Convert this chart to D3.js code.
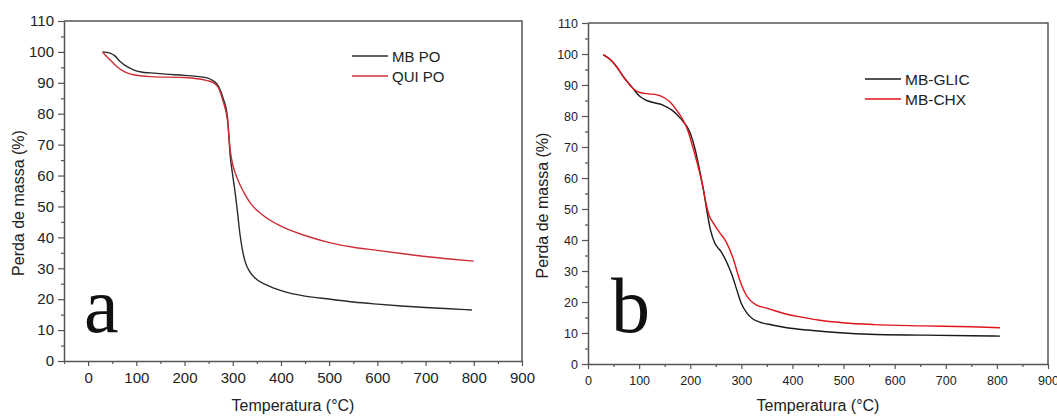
<!doctype html>
<html>
<head>
<meta charset="utf-8">
<script src="https://d3js.org/d3.v7.min.js"></script>
<style>
  body { margin: 0; background: #fff; }
  .axis path.domain { stroke: #555; stroke-width: 1.5px; }
  .axis g.tick line { stroke: #555; stroke-width: 1.2px; }
  .axis text { fill: #222; font-family: Arial, 'Liberation Sans', sans-serif; }
  .frame { stroke: #555; stroke-width: 1.5px; fill: none; }
  .title { font-family: Arial, 'Liberation Sans', sans-serif; fill: #222; font-size: 16px; }
  .legend text { font-family: Arial, 'Liberation Sans', sans-serif; fill: #222; }
  .letter { font-family: 'Liberation Serif', 'Times New Roman', serif; fill: #111; font-size: 78px; }
</style>
</head>
<body>
<svg id="chart" width="1057" height="416"></svg>
<script>
// panel a : [temperature °C, mass %]
var mbPO = [[30,100],[45,99.6],[55,98.8],[67,96.8],[80,95.3],[94,94.2],[110,93.5],[130,93.2],[160,92.8],
  [200,92.4],[230,92],[247,91.6],[260,90.6],[270,89],[280,85],[289,79],[295,66],[300,60],[305,54.5],
  [310,48],[315,41],[320,36],[326,32],[335,29],[345,27],[370,24.6],[405,22.5],[450,21],[503,20],
  [550,19.1],[600,18.4],[650,17.8],[700,17.3],[750,16.9],[796,16.5]];
var quiPO = [[30,99.9],[39,98.4],[50,96.7],[60,95.2],[75,93.6],[94,92.6],[130,92],[200,91.7],[247,90.7],
  [260,90],[270,88.5],[280,84],[289,78],[295,68],[300,63.5],[306,60.5],[315,57],[325,54],[337,51],
  [360,47.5],[400,43.6],[450,40.6],[503,38.2],[550,36.8],[600,35.8],[650,34.8],[700,33.8],[750,33],[800,32.3]];

// panel b
var mbGLIC = [[30,99.7],[45,98],[56,95.9],[70,92.5],[88,88.9],[100,86.5],[115,85],[147,83.5],[165,81.8],
  [180,79.4],[200,74.5],[210,69],[219,62],[226,56],[232,50],[240,43],[248,39],[260,36.3],[271,33],
  [281,29],[291,24],[300,19.5],[311,16.4],[322,14.6],[336,13.5],[360,12.6],[389,11.7],[440,10.8],
  [493,10.1],[550,9.6],[655,9.3],[750,9.1],[806,9.0]];
var mbCHX = [[30,99.8],[45,98],[56,95.9],[70,92.5],[88,88.9],[98,87.8],[115,87.2],[135,86.8],[150,85.8],
  [160,84.6],[175,81.5],[186,78.7],[196,75],[205,70],[215,64],[225,57],[232,51],[237,48],[245,45.5],
  [258,42.3],[270,39.5],[284,34],[297,27],[307,23],[317,20.6],[330,19],[350,18],[395,15.8],[415,15.2],
  [450,14.2],[499,13.3],[560,12.7],[655,12.3],[750,12],[806,11.7]];

var xTicks = [0,100,200,300,400,500,600,700,800,900];
var yTicks = [0,10,20,30,40,50,60,70,80,90,100,110];
var xTitle = 'Temperatura (°C)';
var yTitle = 'Perda de massa (%)';

var svg = d3.select('#chart');

function drawPanel(cfg){
  var x = d3.scaleLinear().domain(cfg.xDomain).range([cfg.left, cfg.right]);
  var y = d3.scaleLinear().domain([0,110]).range([cfg.bottom, cfg.top]);
  var g = svg.append('g');

  // minor ticks
  var xMinor = d3.range(cfg.xDomain[0] < 0 ? -50 : 50, 901, 100).filter(function(v){ return v > cfg.xDomain[0] || v === -50; });
  g.append('g').attr('class','axis').attr('transform','translate(0,'+cfg.bottom+')')
    .call(d3.axisBottom(x).tickValues(xMinor).tickSize(3).tickFormat(''))
    .select('path.domain').remove();
  g.append('g').attr('class','axis').attr('transform','translate('+cfg.left+',0)')
    .call(d3.axisLeft(y).tickValues(d3.range(5,110,10)).tickSize(3).tickFormat(''))
    .select('path.domain').remove();

  // major axes
  var xa = g.append('g').attr('class','axis').attr('transform','translate(0,'+cfg.bottom+')')
    .call(d3.axisBottom(x).tickValues(xTicks).tickSize(5).tickSizeOuter(0).tickPadding(cfg.xPad));
  xa.selectAll('text').style('font-size', cfg.tickFont+'px');
  var ya = g.append('g').attr('class','axis').attr('transform','translate('+cfg.left+',0)')
    .call(d3.axisLeft(y).tickValues(yTicks).tickSize(6).tickSizeOuter(0).tickPadding(cfg.yPad));
  ya.selectAll('text').style('font-size', cfg.tickFont+'px');

  // top and right frame
  g.append('path').attr('class','frame')
    .attr('d', 'M'+cfg.left+','+cfg.top+'H'+cfg.right+'V'+cfg.bottom);

  var line = d3.line().curve(d3.curveMonotoneX)
    .x(function(d){ return x(d[0]); }).y(function(d){ return y(d[1]); });
  cfg.series.forEach(function(s){
    g.append('path').datum(s.data).attr('d', line)
      .attr('fill','none').attr('stroke', s.color).attr('stroke-width', 1.4);
  });

  // legend
  var lg = g.append('g').attr('class','legend');
  cfg.series.forEach(function(s, i){
    var ly = cfg.legY + i*20;
    lg.append('line').attr('x1', cfg.legX).attr('x2', cfg.legX+36)
      .attr('y1', ly).attr('y2', ly).attr('stroke', s.color).attr('stroke-width', 1.6);
    lg.append('text').attr('x', cfg.legX+40).attr('y', ly+5.5)
      .style('font-size', cfg.legFont+'px').text(s.name);
  });

  // titles
  g.append('text').attr('class','title').attr('text-anchor','middle')
    .attr('x', (cfg.left+cfg.right)/2).attr('y', 411).text(xTitle);
  g.append('text').attr('class','title').attr('text-anchor','middle')
    .attr('transform','translate('+cfg.yTitleX+','+((cfg.top+cfg.bottom)/2+12)+') rotate(-90)')
    .text(yTitle);

  g.append('text').attr('class','letter').attr('x', cfg.letterX).attr('y', 332).text(cfg.letter);
}

drawPanel({
  xDomain: [-50, 900], left: 64, right: 522, top: 21, bottom: 361,
  tickFont: 15, xPad: 6, yPad: 4, yTitleX: 24,
  legX: 352, legY: 56, legFont: 15, letter: 'a', letterX: 84,
  series: [{name:'MB PO', data: mbPO, color:'#2a2a2a'}, {name:'QUI PO', data: quiPO, color:'#cc2f36'}]
});

drawPanel({
  xDomain: [0, 900], left: 588, right: 1048, top: 23, bottom: 364,
  tickFont: 12.5, xPad: 7, yPad: 4, yTitleX: 548,
  legX: 865, legY: 79, legFont: 15.5, letter: 'b', letterX: 611,
  series: [{name:'MB-GLIC', data: mbGLIC, color:'#1a1a1a'}, {name:'MB-CHX', data: mbCHX, color:'#e0151c'}]
});
</script>
</body>
</html>
